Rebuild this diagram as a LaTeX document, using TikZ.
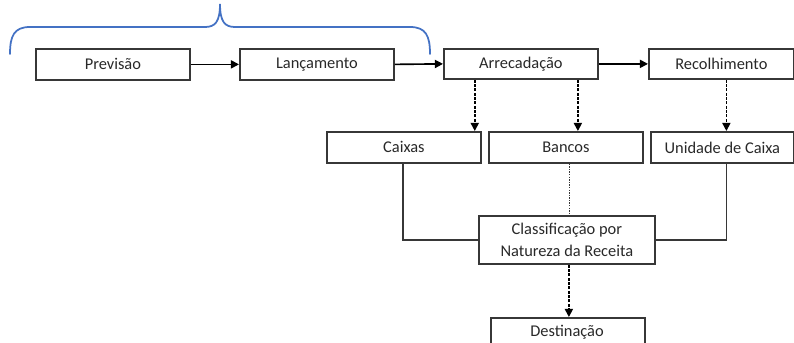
\documentclass[tikz,border=0pt]{standalone}
\usepackage{fontspec}
\setmainfont{Carlito}
\usetikzlibrary{arrows.meta}
\definecolor{boxline}{RGB}{55,55,55}
\definecolor{txt}{RGB}{40,40,40}
\definecolor{bracecol}{RGB}{68,114,196}
\tikzset{
  stepbox/.style={draw=boxline, line width=1.5pt, inner sep=0pt, text=txt, font=\fontsize{14}{16}\selectfont, anchor=north west},
  solidarrow/.style={draw=black, line width=1.4pt, -{Triangle[length=7pt,width=7pt]}},
  dasharrow/.style={draw=black, line width=1.4pt, dash pattern=on 2.5pt off 1.2pt, -{Triangle[length=7pt,width=7pt]}},
  plainline/.style={draw=boxline, line width=1.2pt},
  dotline/.style={draw=boxline, line width=1pt, dash pattern=on 1.2pt off 1pt},
}
\begin{document}
\begin{tikzpicture}[x=0.03cm,y=-0.03cm]
\useasboundingbox (0,0) rectangle (794,343);
\clip (0,0) rectangle (794,343);
% brace
\draw[bracecol, line width=1.5pt, line cap=round]
  (10,54) .. controls (10,36) and (14,27) .. (30,27) -- (205,27)
  .. controls (215,27) and (220,22) .. (220,4)
  .. controls (220,22) and (225,27) .. (235,27) -- (410,27)
  .. controls (426,27) and (430,36) .. (430,54);
% nodes
\node[stepbox, minimum width=4.62cm, minimum height=0.93cm] (prev) at (35,48) {Previsão};
\node[stepbox, minimum width=4.62cm, minimum height=0.93cm] (lanc) at (239,48) {Lançamento};
\node[stepbox, minimum width=4.62cm, minimum height=0.90cm] (arre) at (443,48) {Arrecadação};
\node[stepbox, minimum width=4.35cm, minimum height=0.90cm] (reco) at (648,48) {Recolhimento};
\node[stepbox, minimum width=4.62cm, minimum height=0.93cm] (caix) at (326,131) {Caixas};
\node[stepbox, minimum width=4.62cm, minimum height=0.93cm] (banc) at (488,131) {Bancos};
\node[stepbox, minimum width=4.29cm, minimum height=0.93cm] (unid) at (650,131) {Unidade de Caixa};
\node[stepbox, minimum width=5.28cm, minimum height=1.44cm, align=center] (clas) at (478,215) {Classificação por\\[3pt]Natureza da Receita};
\node[stepbox, minimum width=4.62cm, minimum height=1.2cm] (dest) at (490,317) {};
\node[text=txt, font=\fontsize{14}{16}\selectfont, anchor=center] (destlab) at (567,332) {Destinação};
% connectors
\draw[solidarrow] (prev.east) -- (lanc.west);
\draw[solidarrow] (lanc.east) -- (arre.west);
\draw[solidarrow] (arre.east) -- (reco.west);
\draw[dasharrow] (arre.south -| caix.north east) ++(-7,0) coordinate (a1) -- (a1 |- caix.north);
\draw[dasharrow] (arre.south -| banc.north) ++(12,0) coordinate (a2) -- (a2 |- banc.north);
\draw[dasharrow] (reco.south -| unid.north) ++(4,0) coordinate (a3) -- (a3 |- unid.north);
\draw[plainline] (caix.south) ++(-1,0) coordinate (c1) |- (clas.west);
\draw[plainline] (unid.south) ++(4,0) coordinate (u1) |- (clas.east);
\draw[dotline] (banc.south) ++(4,0) coordinate (b1) -- (b1 |- clas.north);
\draw[dasharrow] (clas.south) ++(2,0) coordinate (d1) -- (d1 |- dest.north);
\end{tikzpicture}
\end{document}
